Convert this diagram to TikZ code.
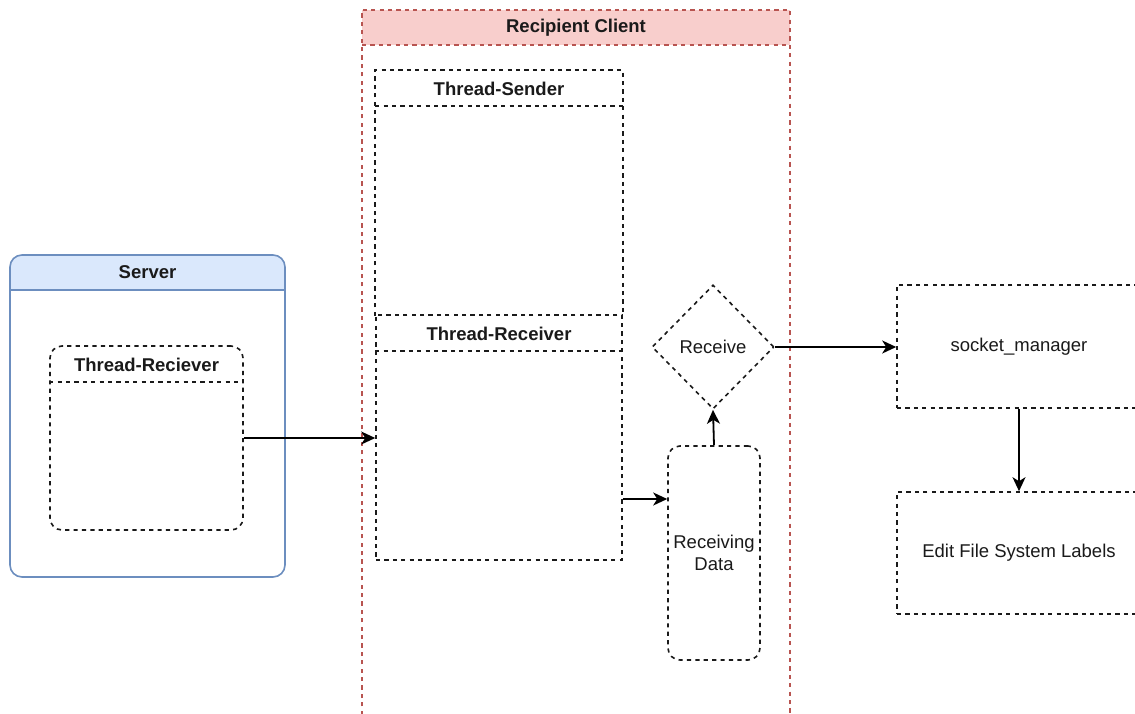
\documentclass[tikz,border=0pt]{standalone}
\usepackage{fontspec}
\setmainfont{Liberation Sans}
\usetikzlibrary{shapes.geometric,arrows.meta}
\definecolor{hdrblue}{HTML}{DAE8FC}
\definecolor{strokeblue}{HTML}{6C8EBF}
\definecolor{hdrred}{HTML}{F8CECC}
\definecolor{strokered}{HTML}{B85450}
\definecolor{ink}{HTML}{1A1A1A}
\tikzset{
  dsh/.style={draw=ink, line width=1.6pt, dash pattern=on 4.2pt off 4.2pt},
  boxnode/.style={dsh, rectangle, inner sep=0pt, font=\fontsize{18.5}{22}\selectfont, text=ink, align=center},
  rbox/.style={boxnode, rounded corners=12pt},
  title/.style={font=\bfseries\fontsize{18.5}{22}\selectfont, text=ink, inner sep=0pt},
  arr/.style={draw=black, line width=1.8pt, -{Stealth[length=14pt,width=13pt,inset=4pt]}},
}
\begin{document}
\begin{tikzpicture}[x=1pt,y=-1pt]
\useasboundingbox (0,0) rectangle (1135,713);
\clip (0,0) rectangle (1135,713);
\fill[white] (0,0) rectangle (1135,713);
% Server
\fill[hdrblue] (10,290) [rounded corners=12pt] -- (10,255) -- (285,255) [sharp corners] -- (285,290) -- cycle;
\node[draw=strokeblue, line width=1.6pt, rounded corners=12pt, minimum width=275pt, minimum height=322pt, inner sep=0pt] (server) at (147.5,416) {};
\draw[strokeblue, line width=1.6pt] (server.west |- 0,290) coordinate (sh1) -- (server.east |- 0,290) coordinate (sh2);
\node[title] (serverT) at (147.5,272.5) {Server};
% Server thread
\node[rbox, minimum width=193pt, minimum height=184pt] (sthread) at (146.5,438) {};
\draw[dsh] (sthread.west |- 0,382) coordinate (st1) -- (sthread.east |- 0,382) coordinate (st2);
\node[title] (sthreadT) at (146.5,364.5) {Thread-Reciever};
% Recipient client
\fill[hdrred] (362,10) rectangle (790,45);
\draw[draw=strokered, line width=1.3pt, dash pattern=on 4.2pt off 4.2pt] (362,740) coordinate (rc1) -- (362,10) coordinate (rc2) -- (790,10) coordinate (rc3) -- (790,740) coordinate (rc4);
\draw[draw=strokered, line width=1.3pt, dash pattern=on 4.2pt off 4.2pt] (362,45) coordinate (rc5) -- (790,45) coordinate (rc6);
\node[title] (clientT) at (576,27.5) {Recipient Client};
% Thread-Sender (bottom edge shared with Thread-Receiver)
\node[boxnode, draw=none, minimum width=246pt, minimum height=244pt] (tsend) at (499,193) {};
\draw[dsh] (tsend.south west) -- (tsend.north west) -- (tsend.north east) -- (tsend.south east);
\draw[dsh] (tsend.west |- 0,106) coordinate (ts1) -- (tsend.east |- 0,106) coordinate (ts2);
\node[title] (tsendT) at (499,89) {Thread-Sender};
% Thread-Receiver
\node[boxnode, minimum width=246pt, minimum height=245pt] (trecv) at (499,437.5) {};
\draw[dsh] (trecv.west |- 0,351) coordinate (tr1) -- (trecv.east |- 0,351) coordinate (tr2);
\node[title] (trecvT) at (499,334) {Thread-Receiver};
% Receive diamond
\node[boxnode, diamond, minimum width=122pt, minimum height=124pt] (recv) at (713,347) {Receive};
% Receiving Data
\node[rbox, minimum width=92pt, minimum height=214pt] (rdata) at (714,553) {Receiving\\Data};
% socket_manager
\node[boxnode, minimum width=244pt, minimum height=123pt] (sock) at (1019,346.5) {socket\_manager};
\node[boxnode, minimum width=244pt, minimum height=122pt] (edit) at (1019,553) {Edit File System Labels};
% connectors
\draw[arr] (sthread.east) -- (sthread.east -| trecv.west);
\draw[arr] ([yshift=-61.5pt]trecv.east) -- ([yshift=-61.5pt]trecv.east -| rdata.west);
\draw[arr] (rdata.north) -- (recv.south);
\draw[arr] (recv.east) -- (recv.east -| sock.west);
\draw[arr] (sock.south) -- (edit.north);
\end{tikzpicture}
\end{document}
